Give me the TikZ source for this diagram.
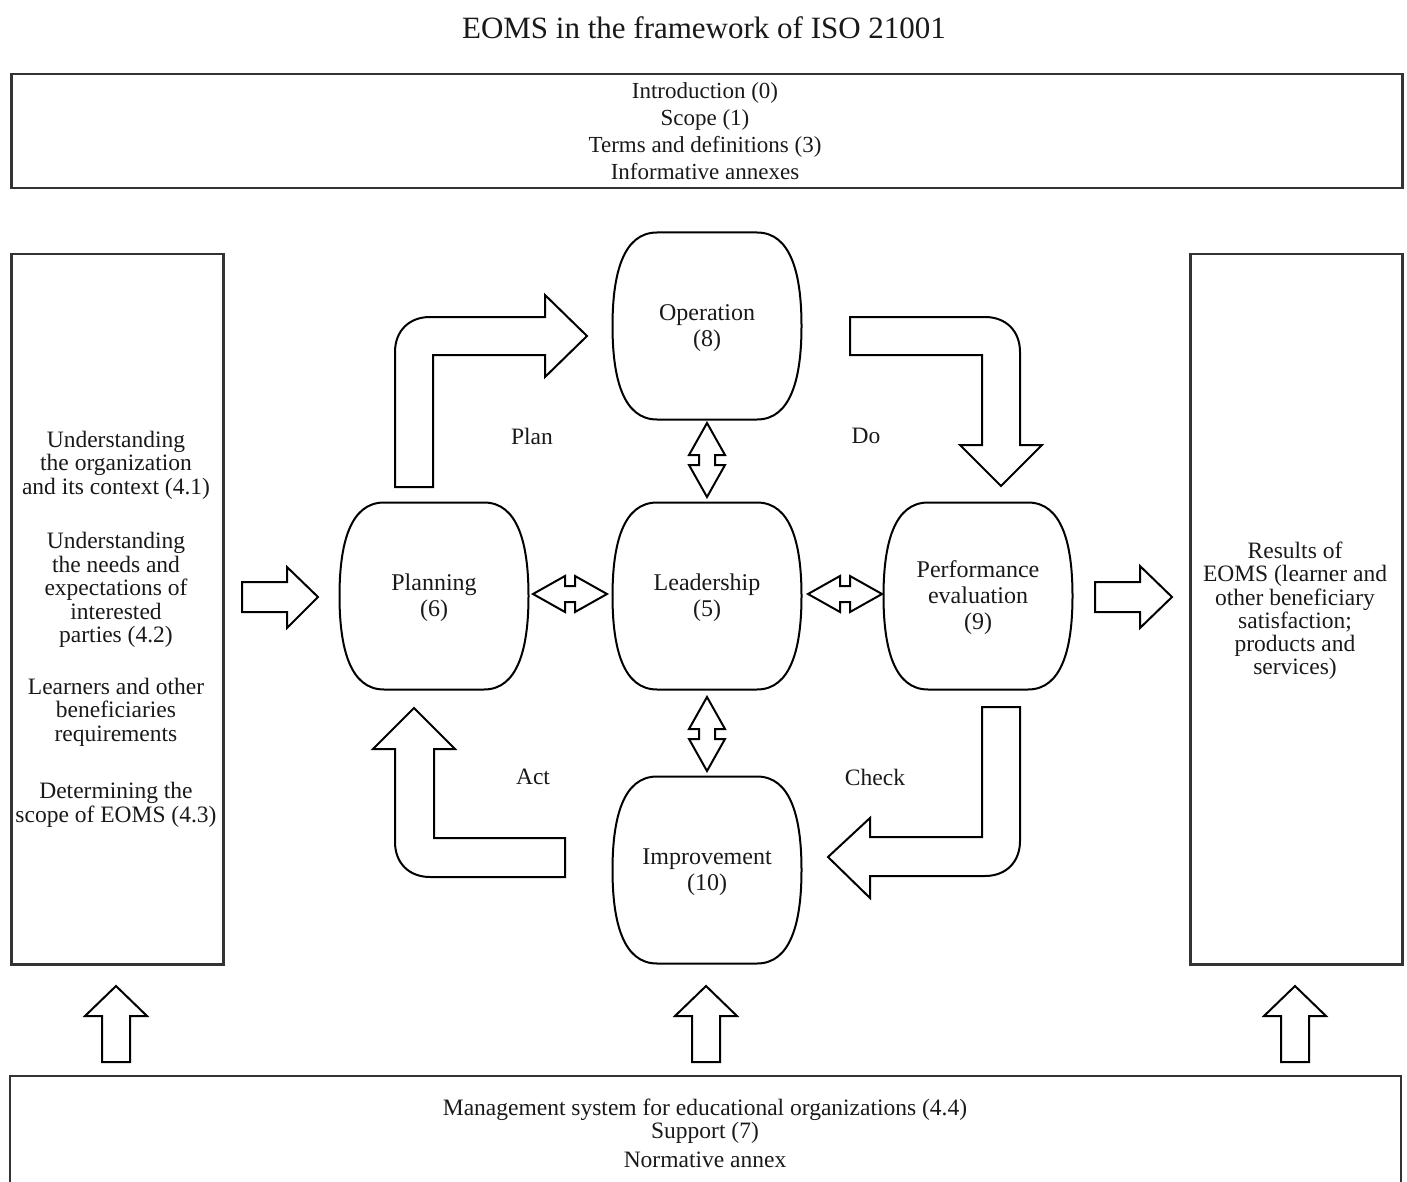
\documentclass[tikz,border=0pt]{standalone}
\usepackage{fontspec}
\setmainfont{Liberation Serif}
\begin{document}
\begin{tikzpicture}[x=1pt,y=-1pt,
  box/.style={draw=black!80, line width=2.5pt, rectangle, inner sep=0pt},
  txt/.style={font=\fontsize{23.5}{23.5}\selectfont, align=center, text=black!90, inner sep=0pt},
  ntxt/.style={font=\fontsize{24}{26}\selectfont, align=center, text=black!90, inner sep=0pt},
  shp/.style={draw=black, line width=2pt, fill=white, line join=miter},
  barrel/.pic={\draw[shp] (-50,-93.5) -- (50,-93.5) .. controls (84,-93.5) and (94.5,-52) .. (94.5,0) .. controls (94.5,52) and (84,93.5) .. (50,93.5) -- (-50,93.5) .. controls (-84,93.5) and (-94.5,52) .. (-94.5,0) .. controls (-94.5,-52) and (-84,-93.5) .. (-50,-93.5) -- cycle;},
  dbl/.pic={\draw[shp] (0,-37) -- (18,-5) -- (8,-5) -- (8,5) -- (18,5) -- (0,37) -- (-18,5) -- (-8,5) -- (-8,-5) -- (-18,-5) -- cycle;},
  uparr/.pic={\draw[shp] (-14,76) -- (-14,30) -- (-31,30) -- (0,0) -- (31,30) -- (14,30) -- (14,76) -- cycle;}
]
\useasboundingbox (0,0) rectangle (1407,1182);

% title
\node[txt, font=\fontsize{31}{33}\selectfont] (title) at (704,28) {EOMS in the framework of ISO 21001};

% top box
\node[box, minimum width=1391pt, minimum height=114pt, anchor=north west] (topbox) at (10,73) {};
\node[txt, font=\fontsize{23}{27}\selectfont] (toptext) at (705,131) {Introduction (0)\\Scope (1)\\Terms and definitions (3)\\Informative annexes};

% left box
\node[box, minimum width=212pt, minimum height=710pt, anchor=north west] (leftbox) at (10,253) {};
\node[txt] (l1) at (116,465) {Understanding\\the organization\\and its context (4.1)};
\node[txt] (l2) at (116,590) {Understanding\\the needs and\\expectations of\\interested\\parties (4.2)};
\node[txt] (l3) at (116,712) {Learners and other\\beneficiaries\\requirements};
\node[txt] (l4) at (116,805) {Determining the\\scope of EOMS (4.3)};

% right box
\node[box, minimum width=212pt, minimum height=710pt, anchor=north west] (rightbox) at (1189,253) {};
\node[txt, font=\fontsize{23.5}{23.2}\selectfont] (r1) at (1295,611) {Results of\\EOMS (learner and\\other beneficiary\\satisfaction;\\products and\\services)};

% bottom box (open at the lower edge)
\draw[draw=black!80, line width=2.5pt] (10,1190) -- (10,1076) -- (1401,1076) -- (1401,1190);
\node[txt] (bottext) at (705,1133) {Management system for educational organizations (4.4)\\Support (7)\\[5pt]Normative annex};

% process shapes
\pic at (707,326) {barrel};
\pic at (707,596) {barrel};
\pic at (434,596) {barrel};
\pic at (978,596) {barrel};
\pic at (707,870) {barrel};
\node[ntxt] (op) at (707,328) {Operation\\(8)};
\node[ntxt] (le) at (707,598) {Leadership\\(5)};
\node[ntxt] (pl) at (434,598) {Planning\\(6)};
\node[ntxt] (pe) at (978,598) {Performance\\evaluation\\(9)};
\node[ntxt] (im) at (707,872) {Improvement\\(10)};

% PDCA labels
\node[txt] (plan) at (532,436) {Plan};
\node[txt] (do) at (866,436) {Do};
\node[txt] (act) at (533,777) {Act};
\node[txt] (check) at (875,777) {Check};

% bent arrows
\draw[shp] (395,487) -- (395,352) .. controls (395,331) and (409,317) .. (430,317) -- (545,317) -- (545,295) -- (587,336) -- (545,377) -- (545,355) -- (433,355) -- (433,487) -- cycle;
\draw[shp] (850,317) -- (985,317) .. controls (1006,317) and (1020,331) .. (1020,352) -- (1020,445) -- (1042,445) -- (1001,486) -- (960,445) -- (982,445) -- (982,355) -- (850,355) -- cycle;
\draw[shp] (982,707) -- (1020,707) -- (1020,841) .. controls (1020,862) and (1006,876) .. (985,876) -- (870,876) -- (870,898) -- (828,857) -- (870,818) -- (870,837) -- (982,837) -- cycle;
\draw[shp] (565,838) -- (434,838) -- (434,749) -- (455,749) -- (414,708) -- (373,749) -- (395,749) -- (395,842) .. controls (395,863) and (409,877) .. (430,877) -- (565,877) -- cycle;

% straight arrows left/right
\draw[shp] (242,582) -- (287,582) -- (287,567) -- (318,597) -- (287,628) -- (287,612) -- (242,612) -- cycle;
\draw[shp] (1095,582) -- (1140,582) -- (1140,566) -- (1172,597) -- (1140,628) -- (1140,612) -- (1095,612) -- cycle;

% double arrows
\pic at (707,460) {dbl};
\pic at (707,734) {dbl};
\pic[rotate=90] at (570,594) {dbl};
\pic[rotate=90] at (845,594) {dbl};

% up arrows from bottom box
\pic at (116,986) {uparr};
\pic at (706,986) {uparr};
\pic at (1295,986) {uparr};
\end{tikzpicture}
\end{document}
